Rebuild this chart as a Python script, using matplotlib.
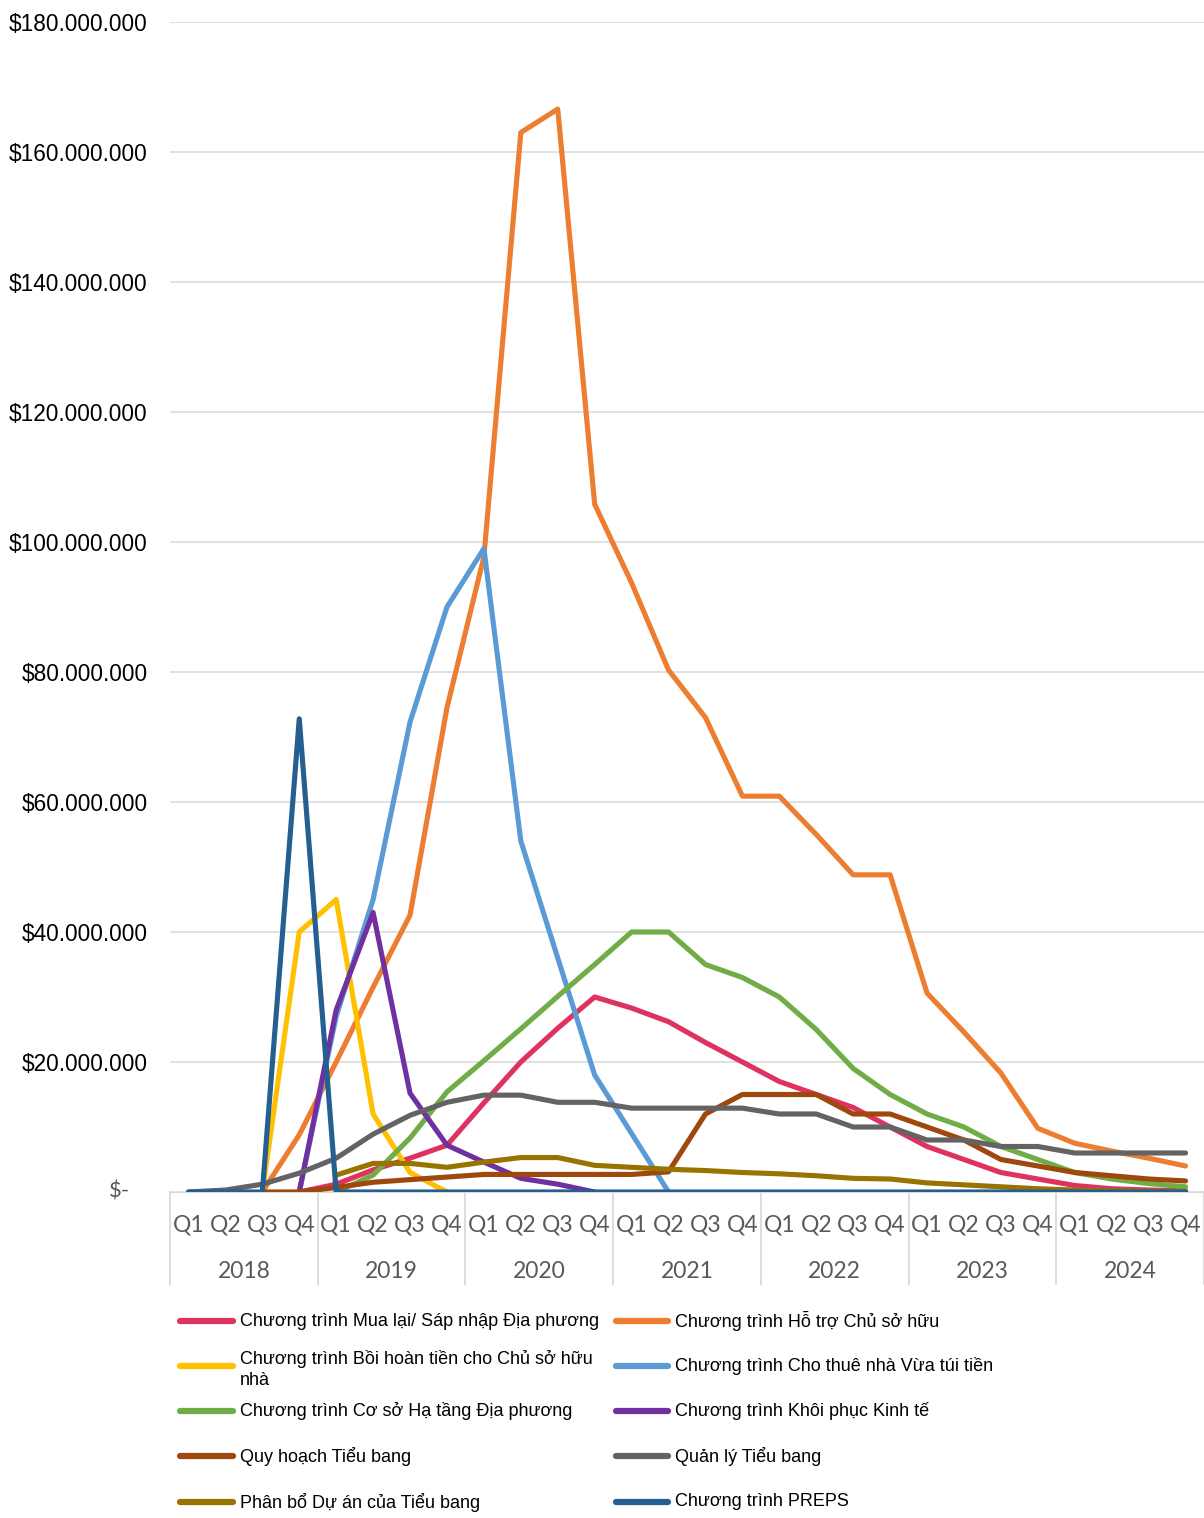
import numpy as np
import matplotlib
matplotlib.use("Agg")
import matplotlib.pyplot as plt
from matplotlib import font_manager
from matplotlib.lines import Line2D
import matplotlib.transforms as mtransforms

plt.rcParams['font.family'] = ['Liberation Sans', 'DejaVu Sans']

names = {f.name for f in font_manager.fontManager.ttflist}
if 'Liberation Sans Narrow' in names:
    cat_font, cat_size = ['Liberation Sans Narrow', 'DejaVu Sans'], 18
elif 'Lato' in names:
    cat_font, cat_size = ['Lato', 'DejaVu Sans'], 16.5
else:
    cat_font, cat_size = ['Liberation Sans', 'DejaVu Sans'], 15

years = ['2018', '2019', '2020', '2021', '2022', '2023', '2024']
quarters = ['Q1', 'Q2', 'Q3', 'Q4']
N = np.nan

# values in millions of dollars, Q1 2018 .. Q4 2024
mua_lai = [N, N, N, 0, 1.2, 3.4, 5.2, 7.2, 13.7, 20, 25.2, 30, 28.3, 26.2, 23, 20,
           17, 15, 13, 10, 7, 5, 3, 2, 1, 0.5, 0.3, 0.2]
ho_tro = [N, N, 0, 8.8, 20, 31.5, 42.6, 74.5, 97.7, 163, 166.6, 105.8, 93.7, 80.3, 73, 60.9,
          60.9, 55, 48.8, 48.8, 30.6, 24.6, 18.3, 9.8, 7.5, 6.3, 5.2, 4]
boi_hoan = [N, N, 0, 40, 45, 12, 3, 0, N, N, N, N, N, N, N, N,
            N, N, N, N, N, N, N, N, N, N, N, N]
cho_thue = [N, N, N, 0, 27, 45, 72.3, 90, 99, 54, 36, 18, 9, 0, N, N,
            N, N, N, N, N, N, N, N, N, N, N, N]
co_so = [N, N, N, N, 0, 2.6, 8.3, 15.4, 20.2, 25.1, 30.1, 35, 40, 40, 35, 33,
         30, 25, 19, 15, 12, 10, 7, 5, 3, 2, 1.3, 0.8]
khoi_phuc = [N, N, N, 0, 28, 43, 15.2, 7.2, 4.6, 2.1, 1.2, 0, N, N, N, N,
             N, N, N, N, N, N, N, N, N, N, N, N]
quy_hoach = [N, N, 0, 0, 0.7, 1.5, 1.9, 2.3, 2.7, 2.7, 2.7, 2.7, 2.7, 3.1, 12, 15,
             15, 15, 12, 12, 10, 8, 5, 4, 3, 2.5, 2, 1.7]
quan_ly = [0, 0.3, 1.2, 2.9, 5.2, 8.9, 11.8, 13.8, 14.9, 14.9, 13.8, 13.8, 12.9, 12.9, 12.9, 12.9,
           12, 12, 10, 10, 8, 8, 7, 7, 6, 6, 6, 6]
phan_bo = [N, N, N, N, 2.6, 4.4, 4.4, 3.8, 4.6, 5.3, 5.3, 4.1, 3.8, 3.5, 3.3, 3,
           2.8, 2.5, 2.1, 2, 1.4, 1.1, 0.8, 0.5, 0.3, 0.2, 0.1, 0.1]
preps = [0, 0, 0, 72.8, 0, 0, 0, 0, 0, 0, 0, 0, 0, 0, 0, 0,
         0, 0, 0, 0, 0, 0, 0, 0, 0, 0, 0, 0]

series = [
    ('Chương trình Mua lại/ Sáp nhập Địa phương', mua_lai, '#DE3361'),
    ('Chương trình Hỗ trợ Chủ sở hữu', ho_tro, '#ED7D31'),
    ('Chương trình Bồi hoàn tiền cho Chủ sở hữu\nnhà', boi_hoan, '#FFC000'),
    ('Chương trình Cho thuê nhà Vừa túi tiền', cho_thue, '#5B9BD5'),
    ('Chương trình Cơ sở Hạ tầng Địa phương', co_so, '#70AD47'),
    ('Chương trình Khôi phục Kinh tế', khoi_phuc, '#7030A0'),
    ('Quy hoạch Tiểu bang', quy_hoach, '#9E480E'),
    ('Quản lý Tiểu bang', quan_ly, '#636363'),
    ('Phân bổ Dự án của Tiểu bang', phan_bo, '#997300'),
    ('Chương trình PREPS', preps, '#255E91'),
]

fig = plt.figure(figsize=(12.04, 15.18), dpi=100)
ax = fig.add_axes([170/1204, 1 - 1192/1518, 1 - 170/1204, (1192 - 22)/1518])

x = np.arange(len(years) * len(quarters))
for label, vals, col in series:
    ax.plot(x, np.array(vals) * 1e6, color=col, lw=3.7, solid_joinstyle='round',
            solid_capstyle='round', zorder=3)

ax.set_xlim(-0.5, len(x) - 0.5)
ax.set_ylim(0, 180e6)
yt = np.arange(0, 180e6 + 1, 20e6)
ax.set_yticks(yt)
ax.set_yticklabels(['' if v == 0 else '$' + f'{int(v):,}'.replace(',', '.') for v in yt],
                   fontsize=16.3)
ax.tick_params(axis='y', length=0, pad=16)
ax.grid(axis='y', color='#D9D9D9', lw=1.1)
ax.set_axisbelow(True)
for s in ['left', 'top', 'right']:
    ax.spines[s].set_visible(False)
ax.spines['bottom'].set_color('#D9D9D9')

ax.text(-40/1034, 0, '$-', transform=mtransforms.blended_transform_factory(ax.transAxes, ax.transData),
        ha='right', va='center', fontsize=16, color='#595959', family=cat_font)

ax.set_xticks(x)
ax.set_xticklabels(quarters * len(years), family=cat_font, fontsize=cat_size, color='#595959')
ax.tick_params(axis='x', length=0, pad=16)

trans = mtransforms.blended_transform_factory(ax.transData, ax.transAxes)
for i, yr in enumerate(years):
    ax.text(i * 4 + 1.5, -79/1170, yr, transform=trans, ha='center', va='center',
            family=cat_font, fontsize=cat_size, color='#595959')
for b in np.arange(-0.5, len(x), 4):
    ax.add_line(Line2D([b, b], [0, -92/1170], transform=trans, color='#D9D9D9', lw=1.3, clip_on=False))

# legend, two columns with aligned rows
rows = [1321, 1366, 1411, 1456, 1502]
cols = [(180, 233, 240), (616, 668, 675)]
H, W = 1518, 1204
for k, (label, vals, col) in enumerate(series):
    r, c = k // 2, k % 2
    x0, x1, xt = cols[c]
    yy = 1 - rows[r] / H
    fig.add_artist(Line2D([x0/W, x1/W], [yy, yy], color=col, lw=4.5, solid_capstyle='round'))
    if '\n' in label:
        fig.text(xt/W, 1 - 1350/H, label, ha='left', va='top', fontsize=13, linespacing=1.3)
    else:
        fig.text(xt/W, yy, label, ha='left', va='center', fontsize=13)

fig.savefig('out.png', dpi=100)
